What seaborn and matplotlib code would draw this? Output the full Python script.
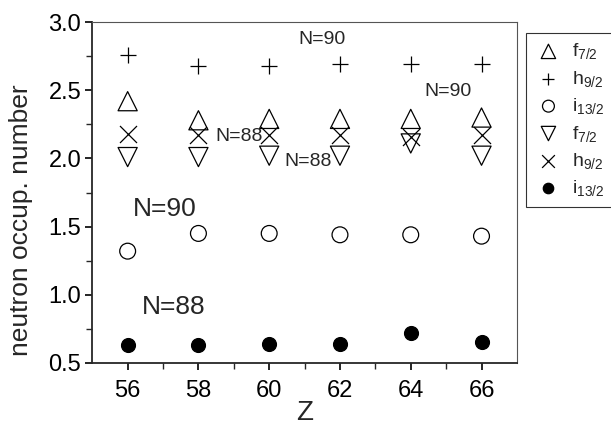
import matplotlib
matplotlib.use("Agg")
import matplotlib.pyplot as plt
import numpy as np
import pandas as pd
import seaborn as sns

# Z values and occupation numbers
z = [56, 58, 60, 62, 64, 66]
f72_n90 = [2.42, 2.28, 2.29, 2.29, 2.29, 2.30]
h92_n90 = [2.76, 2.68, 2.68, 2.69, 2.69, 2.69]
i132_n90 = [1.32, 1.45, 1.45, 1.44, 1.44, 1.43]
f72_n88 = [2.01, 2.01, 2.02, 2.02, 2.11, 2.02]
h92_n88 = [2.18, 2.17, 2.17, 2.17, 2.16, 2.17]
i132_n88 = [0.63, 0.63, 0.64, 0.64, 0.72, 0.65]

labels = [r"f$_{7/2}$", r"h$_{9/2}$", r"i$_{13/2}$",
          r"f$_{7/2}$ ", r"h$_{9/2}$ ", r"i$_{13/2}$ "]
series = [f72_n90, h92_n90, i132_n90, f72_n88, h92_n88, i132_n88]

df = pd.DataFrame({
    "Z": np.tile(z, len(series)),
    "occ": np.concatenate(series),
    "orbit": np.repeat(labels, len(z)),
})

sns.set_style("ticks")
plt.rcParams["font.family"] = ["Liberation Sans", "DejaVu Sans"]
plt.rcParams["mathtext.fontset"] = "custom"
plt.rcParams["mathtext.rm"] = "Liberation Sans"
plt.rcParams["mathtext.it"] = "Liberation Sans"

fig = plt.figure(figsize=(6.11, 4.25), dpi=100)
ax = fig.add_axes([0.151, 0.146, 0.695, 0.802])

# marker, size, filled
style = {labels[0]: ("^", 190, False), labels[1]: ("+", 130, False),
         labels[2]: ("o", 130, False), labels[3]: ("v", 190, False),
         labels[4]: ("x", 150, False), labels[5]: ("o", 100, True)}
for lab in labels:
    sub = df[df["orbit"] == lab]
    m, s, filled = style[lab]
    if m in ("+", "x"):
        sns.scatterplot(data=sub, x="Z", y="occ", marker=m, s=s,
                        color="black", linewidth=0.9, ax=ax, label=lab)
    else:
        sns.scatterplot(data=sub, x="Z", y="occ", marker=m, s=s,
                        facecolor="black" if filled else "none",
                        edgecolor="black", linewidth=0.9, ax=ax, label=lab)

ax.set_xlim(55, 67)
ax.set_ylim(0.5, 3.0)
ax.set_xticks(z)
ax.set_xticks([57, 59, 61, 63, 65], minor=True)
ax.set_yticks([0.5, 1.0, 1.5, 2.0, 2.5, 3.0])
ax.set_yticks([0.75, 1.25, 1.75, 2.25, 2.75], minor=True)
ax.tick_params(axis="both", which="major", direction="out", length=5,
               width=1.2, labelsize=17, colors="black", pad=3)
ax.tick_params(axis="x", which="major", pad=7)
ax.tick_params(axis="both", which="minor", direction="out", length=4,
               width=1.0)
ax.set_xlabel("Z", fontsize=20, labelpad=-1)
ax.set_ylabel("neutron occup. number", fontsize=19)
ax.yaxis.set_label_coords(-0.14, 0.42)
for side in ("left", "bottom"):
    ax.spines[side].set_linewidth(1.3)
for side in ("top", "right"):
    ax.spines[side].set_linewidth(0.8)
    ax.spines[side].set_color("#555555")

ax.text(61.5, 2.87, "N=90", fontsize=14, ha="center", va="center")
ax.text(65.05, 2.49, "N=90", fontsize=14, ha="center", va="center")
ax.text(59.15, 2.16, "N=88", fontsize=14, ha="center", va="center")
ax.text(61.1, 1.98, "N=88", fontsize=14, ha="center", va="center")
ax.text(57.05, 1.63, "N=90", fontsize=19, ha="center", va="center")
ax.text(57.3, 0.91, "N=88", fontsize=19, ha="center", va="center")

leg = ax.legend(loc="upper left", bbox_to_anchor=(0.861, 0.923),
                bbox_transform=fig.transFigure, frameon=True, fancybox=False,
                edgecolor="black", fontsize=14, handletextpad=0.5,
                handlelength=1.4, labelspacing=0.38, borderpad=0.45,
                borderaxespad=0, markerscale=0.75)
leg.get_frame().set_linewidth(0.8)

fig.savefig("out.png", dpi=100)
